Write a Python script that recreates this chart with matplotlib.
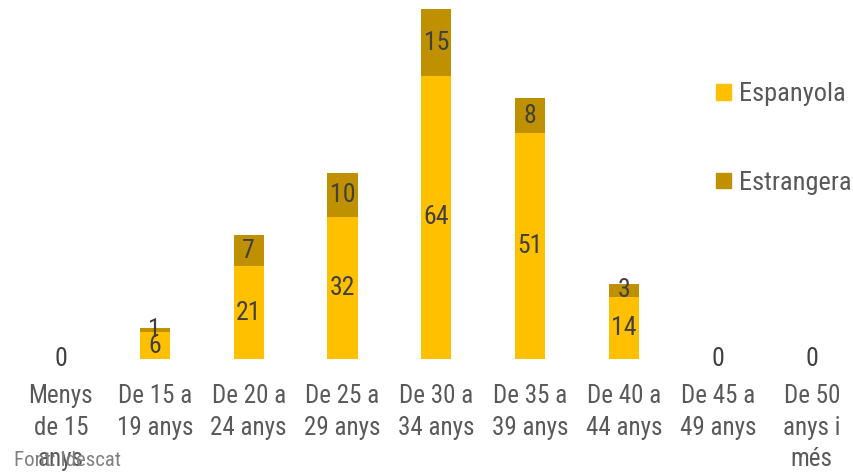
import matplotlib.pyplot as plt
from matplotlib import font_manager
from matplotlib.patches import Patch

categories = ["Menys\nde 15\nanys", "De 15 a\n19 anys", "De 20 a\n24 anys", "De 25 a\n29 anys",
              "De 30 a\n34 anys", "De 35 a\n39 anys", "De 40 a\n44 anys", "De 45 a\n49 anys",
              "De 50\nanys i\nmés"]
espanyola = [0, 6, 21, 32, 64, 51, 14, 0, 0]
estrangera = [0, 1, 7, 10, 15, 8, 3, 0, 0]

# pick a condensed face if one is installed
installed = set(f.name for f in font_manager.fontManager.ttflist)
wanted = ['Roboto Condensed', 'Arial Narrow', 'Liberation Sans Narrow', 'Archivo Narrow',
          'PT Sans Narrow', 'Open Sans Condensed', 'Liberation Sans']
face = next(n for n in wanted if n in installed)
plt.rcParams['font.family'] = [face, 'DejaVu Sans']

c_esp = '#FFC000'
c_est = '#BF9000'
c_num = '#404040'
c_txt = '#595959'

fig = plt.figure(figsize=(8.54, 4.73), dpi=100)
ax = fig.add_axes([14 / 854, (473 - 359) / 473, 840 / 854, 354 / 473])

x = range(len(categories))
ax.bar(x, espanyola, width=0.32, color=c_esp)
ax.bar(x, estrangera, width=0.32, bottom=espanyola, color=c_est)

for i in x:
    e, s = espanyola[i], estrangera[i]
    if e + s == 0:
        ax.text(i, 0, "0", ha='center', va='center', fontsize=18.5, color=c_num)
        continue
    ax.text(i, e / 2, str(e), ha='center', va='center', fontsize=18.5, color=c_num)
    ax.text(i, e + s / 2, str(s), ha='center', va='center', fontsize=18.5, color=c_num)

ax.set_xlim(-0.5, 8.45)
ax.set_ylim(0, 80)
ax.set_xticks(list(x))
ax.set_xticklabels(categories, fontsize=18, color=c_txt, linespacing=1.4)
ax.tick_params(axis='x', length=0, pad=18)
ax.set_yticks([])
for sp in ax.spines.values():
    sp.set_visible(False)

handles = [Patch(color=c_esp, label='Espanyola'), Patch(color=c_est, label='Estrangera')]
fig.legend(handles=handles, loc='upper left', bbox_to_anchor=(703 / 854, 1 - 69 / 473),
           frameon=False, fontsize=19, labelcolor=c_txt, labelspacing=2.45,
           handlelength=0.55, handleheight=0.55, handletextpad=0.3, borderpad=0)

fig.text(14 / 854, 1 - 460 / 473, "Font: Idescat", fontsize=15, color='#808080', va='center')

fig.savefig('out.png', dpi=100)
